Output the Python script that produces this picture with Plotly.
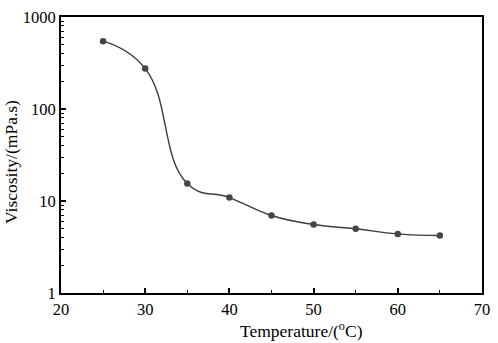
import plotly.graph_objects as go

temperature = [25, 30, 35, 40, 45, 50, 55, 60, 65]
viscosity = [546, 275, 15.5, 10.9, 6.95, 5.55, 4.99, 4.39, 4.21]

x_ticks = [20, 30, 40, 50, 60, 70]
x_minor = [25, 35, 45, 55, 65]
y_ticks = [1, 10, 100, 1000]
y_tick_labels = ["1", "10", "100", "1000"]

FONT = "Liberation Serif"
TICK_SIZE = 16.5
TITLE_SIZE = 17.5

fig = go.Figure()
fig.add_trace(go.Scatter(
    x=temperature, y=viscosity, mode="lines+markers",
    line=dict(color="#3c3c3c", width=1.4, shape="spline", smoothing=1.3),
    marker=dict(color="#454545", size=6.5),
    showlegend=False,
))

fig.update_layout(
    width=498, height=343, autosize=False,
    margin=dict(l=61, r=10, t=8, b=50, pad=0),
    paper_bgcolor="white", plot_bgcolor="white",
    font=dict(family=FONT, size=TICK_SIZE, color="black"),
    xaxis=dict(
        range=[20, 70], tickvals=x_ticks, ticks="inside", ticklen=5, tickwidth=1.5,
        tickcolor="black", showline=True, linecolor="black", linewidth=1.8,
        mirror=True, showgrid=False, zeroline=False,
        minor=dict(tickvals=x_minor, ticks="inside", ticklen=3,
                   tickwidth=1.2, tickcolor="black", showgrid=False),
        tickfont=dict(family=FONT, size=TICK_SIZE, color="black"),
    ),
    yaxis=dict(
        type="log", range=[0, 3], tickvals=y_ticks, ticktext=y_tick_labels,
        ticks="inside", ticklen=5, tickwidth=1.5, tickcolor="black",
        showline=True, linecolor="black", linewidth=1.8, mirror=True,
        showgrid=False, zeroline=False,
        minor=dict(dtick="D1", ticks="inside", ticklen=3, tickwidth=1.2,
                   tickcolor="black", showgrid=False),
        tickfont=dict(family=FONT, size=TICK_SIZE, color="black"),
    ),
    annotations=[
        dict(text="Temperature/(<sup>o</sup>C)", xref="paper", yref="paper",
             x=(305 - 61) / 427, y=-38 / 285, xanchor="center", yanchor="middle",
             showarrow=False, font=dict(family=FONT, size=TITLE_SIZE, color="black")),
        dict(text="Viscosity/(mPa.s)", xref="paper", yref="paper",
             x=-50 / 427, y=(293 - 158) / 285, xanchor="center", yanchor="middle",
             textangle=-90, showarrow=False,
             font=dict(family=FONT, size=TITLE_SIZE, color="black")),
    ],
)

fig.write_html(
    "out.html",
    config={"displayModeBar": False},
    post_script="document.body.style.margin='0';document.body.style.overflow='hidden';",
)
